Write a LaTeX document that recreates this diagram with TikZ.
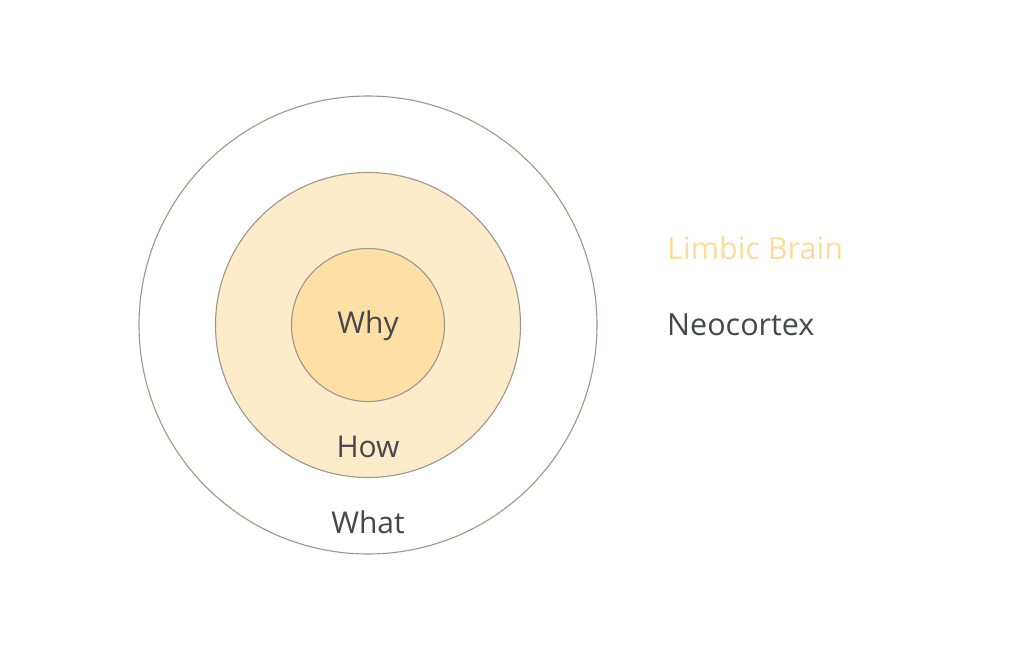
\documentclass[tikz,border=0pt]{standalone}
\usepackage{fontspec}
\setmainfont{Open Sans}
\definecolor{ring}{HTML}{9E978D}
\definecolor{midfill}{HTML}{FEEBC9}
\definecolor{corefill}{HTML}{FEDFA6}
\definecolor{txt}{HTML}{46474B}
\definecolor{limbic}{HTML}{FEDC9E}
\begin{document}
\begin{tikzpicture}[x=1pt,y=-1pt,
  circ/.style={circle,draw=ring,line width=1.1pt,inner sep=0pt},
  lbl/.style={text=txt,font=\fontsize{30}{34}\selectfont,inner sep=0pt},
  side/.style={font=\fontsize{30.5}{34}\selectfont,inner sep=0pt,anchor=west}]
\useasboundingbox (0,0) rectangle (1014,650);
\node[circ,fill=white,minimum size=458pt] (outer) at (368,325) {};
\node[circ,fill=midfill,minimum size=305pt] (mid) at (368,325) {};
\node[circ,fill=corefill,minimum size=153pt] (core) at (368,325) {};
\node[lbl] (why) at (368,326) {Why};
\node[lbl] (how) at (368,447) {How};
\node[lbl] (what) at (368,522) {What};
\node[side,text=limbic] (limb) at (667,248) {Limbic Brain};
\node[side,text=txt] (neo) at (667,325) {Neocortex};
\end{tikzpicture}
\end{document}
